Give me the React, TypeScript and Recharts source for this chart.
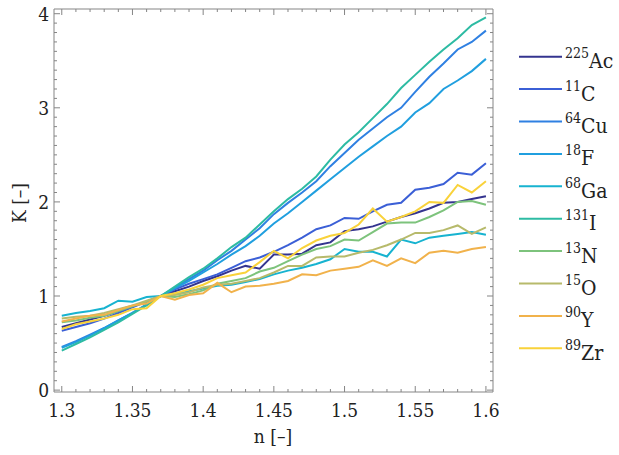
import React from 'react';
import { LineChart, Line, XAxis, YAxis, Legend } from 'recharts';

// refractive index n (x axis), one value per 0.01
const nValues = [
  1.3, 1.31, 1.32, 1.33, 1.34, 1.35, 1.36, 1.37, 1.38, 1.39, 1.4,
  1.41, 1.42, 1.43, 1.44, 1.45, 1.46, 1.47, 1.48, 1.49, 1.5,
  1.51, 1.52, 1.53, 1.54, 1.55, 1.56, 1.57, 1.58, 1.59, 1.6,
];

// K values per radionuclide
const ac225 = [0.67, 0.71, 0.75, 0.79, 0.84, 0.89, 0.94, 1.0, 1.05, 1.1, 1.16, 1.21, 1.27, 1.32, 1.29, 1.44, 1.44, 1.45, 1.54, 1.57, 1.69, 1.71, 1.74, 1.79, 1.84, 1.88, 1.93, 1.99, 2.0, 2.03, 2.06];
const c11 = [0.63, 0.67, 0.71, 0.76, 0.82, 0.88, 0.94, 1.0, 1.07, 1.13, 1.18, 1.23, 1.3, 1.37, 1.41, 1.47, 1.54, 1.62, 1.71, 1.75, 1.83, 1.82, 1.9, 1.97, 1.99, 2.13, 2.15, 2.19, 2.31, 2.29, 2.41];
const cu64 = [0.46, 0.52, 0.59, 0.66, 0.74, 0.82, 0.91, 1.0, 1.09, 1.18, 1.27, 1.38, 1.48, 1.6, 1.72, 1.87, 1.99, 2.1, 2.22, 2.38, 2.52, 2.66, 2.78, 2.9, 3.0, 3.17, 3.33, 3.47, 3.62, 3.7, 3.82];
const f18 = [0.45, 0.51, 0.58, 0.66, 0.74, 0.82, 0.91, 1.0, 1.08, 1.16, 1.25, 1.34, 1.44, 1.53, 1.64, 1.77, 1.88, 2.0, 2.12, 2.24, 2.36, 2.48, 2.59, 2.7, 2.8, 2.95, 3.05, 3.2, 3.29, 3.39, 3.52];
const ga68 = [0.79, 0.82, 0.84, 0.87, 0.95, 0.94, 0.99, 1.0, 1.02, 1.05, 1.08, 1.11, 1.12, 1.15, 1.18, 1.23, 1.27, 1.3, 1.34, 1.39, 1.5, 1.47, 1.47, 1.42, 1.6, 1.56, 1.62, 1.64, 1.66, 1.68, 1.65];
const i131 = [0.42, 0.49, 0.56, 0.64, 0.72, 0.81, 0.9, 1.0, 1.1, 1.2, 1.29, 1.4, 1.52, 1.62, 1.76, 1.9, 2.03, 2.14, 2.27, 2.45, 2.61, 2.74, 2.89, 3.04, 3.21, 3.35, 3.49, 3.62, 3.74, 3.88, 3.96];
const n13 = [0.72, 0.74, 0.77, 0.79, 0.84, 0.89, 0.94, 1.0, 0.99, 1.02, 1.06, 1.13, 1.16, 1.19, 1.26, 1.3, 1.37, 1.44, 1.5, 1.53, 1.6, 1.59, 1.68, 1.77, 1.78, 1.78, 1.84, 1.91, 2.0, 2.01, 1.97];
const o15 = [0.76, 0.78, 0.79, 0.82, 0.86, 0.9, 0.95, 1.0, 1.01, 1.04, 1.09, 1.12, 1.13, 1.16, 1.19, 1.25, 1.32, 1.32, 1.41, 1.42, 1.42, 1.46, 1.49, 1.54, 1.6, 1.67, 1.67, 1.7, 1.75, 1.66, 1.73];
const y90 = [0.73, 0.76, 0.79, 0.8, 0.85, 0.9, 0.92, 1.0, 0.96, 1.01, 1.03, 1.14, 1.04, 1.1, 1.11, 1.13, 1.16, 1.23, 1.22, 1.27, 1.29, 1.31, 1.38, 1.32, 1.4, 1.35, 1.46, 1.48, 1.46, 1.5, 1.52];
const zr89 = [0.65, 0.7, 0.73, 0.76, 0.8, 0.86, 0.87, 1.0, 1.03, 1.07, 1.12, 1.19, 1.22, 1.25, 1.36, 1.48, 1.4, 1.51, 1.59, 1.64, 1.67, 1.76, 1.93, 1.79, 1.84, 1.9, 2.0, 1.99, 2.18, 2.1, 2.22];

const xMajorTicks = [1.3, 1.35, 1.4, 1.45, 1.5, 1.55, 1.6];
const xTickLabels = ['1.3', '1.35', '1.4', '1.45', '1.5', '1.55', '1.6'];
const yMajorTicks = [0, 1, 2, 3, 4];
const yTickLabels = ['0', '1', '2', '3', '4'];
// minor ticks every 0.1 on K
const yMinorTicks = Array.from({ length: 41 }, (_, k) => k / 10);

const series = [
  { key: 'ac225', mass: '225', symbol: 'Ac', color: '#34348f', values: ac225 },
  { key: 'c11', mass: '11', symbol: 'C', color: '#3b5fd6', values: c11 },
  { key: 'cu64', mass: '64', symbol: 'Cu', color: '#2f80e2', values: cu64 },
  { key: 'f18', mass: '18', symbol: 'F', color: '#209fdf', values: f18 },
  { key: 'ga68', mass: '68', symbol: 'Ga', color: '#17b3d0', values: ga68 },
  { key: 'i131', mass: '131', symbol: 'I', color: '#2dbba3', values: i131 },
  { key: 'n13', mass: '13', symbol: 'N', color: '#7dc37c', values: n13 },
  { key: 'o15', mass: '15', symbol: 'O', color: '#b7ba6b', values: o15 },
  { key: 'y90', mass: '90', symbol: 'Y', color: '#f1b24b', values: y90 },
  { key: 'zr89', mass: '89', symbol: 'Zr', color: '#f9d23a', values: zr89 },
];

const chartData = nValues.map((n, i) => {
  const row: Record<string, number> = { n };
  series.forEach(s => { row[s.key] = s.values[i]; });
  return row;
});

const FRAME = '#858585';
const FONT = "'DejaVu Serif Condensed', 'DejaVu Serif', serif";
const textStyle = { fontFamily: FONT, fontStretch: 'condensed' as const };

const majorIndex = (v: number, majors: number[]) =>
  majors.findIndex(m => Math.abs(m - v) < 1e-6);

const BottomTick = (props: any) => {
  const { x, y, payload } = props;
  const idx = majorIndex(payload.value, xMajorTicks);
  return (
    <g>
      <line x1={x} y1={y} x2={x} y2={y - (idx >= 0 ? 6 : 3)} stroke={FRAME} />
      {idx >= 0 && (
        <text x={x} y={y + 25} textAnchor="middle" style={textStyle} fontSize={19} fill="#222">
          {xTickLabels[idx]}
        </text>
      )}
    </g>
  );
};

const TopTick = (props: any) => {
  const { x, y, payload } = props;
  const idx = majorIndex(payload.value, xMajorTicks);
  return <line x1={x} y1={y} x2={x} y2={y + (idx >= 0 ? 6 : 3)} stroke={FRAME} />;
};

const LeftTick = (props: any) => {
  const { x, y, payload } = props;
  const idx = majorIndex(payload.value, yMajorTicks);
  return (
    <g>
      <line x1={x} y1={y} x2={x + (idx >= 0 ? 6 : 3)} y2={y} stroke={FRAME} />
      {idx >= 0 && (
        <text x={x - 5} y={y + 7} textAnchor="end" style={textStyle} fontSize={19} fill="#222">
          {yTickLabels[idx]}
        </text>
      )}
    </g>
  );
};

const RightTick = (props: any) => {
  const { x, y, payload } = props;
  const idx = majorIndex(payload.value, yMajorTicks);
  return <line x1={x} y1={y} x2={x - (idx >= 0 ? 6 : 3)} y2={y} stroke={FRAME} />;
};

const renderLegend = () => (
  <svg width={619} height={455} style={{ position: 'absolute', left: 0, top: 0 }}>
    {series.map((s, k) => {
      const cy = 56.7 + k * 32.4;
      return (
        <g key={s.key}>
          <line x1={519} y1={cy} x2={562} y2={cy} stroke={s.color} strokeWidth={2} />
          <text x={565} y={cy + 11.5} style={textStyle} fill="#222">
            <tspan fontSize={14} dy={-10}>{s.mass}</tspan>
            <tspan fontSize={21} dy={10}>{s.symbol}</tspan>
          </text>
        </g>
      );
    })}
  </svg>
);

export default function App() {
  return (
    <div style={{ position: 'absolute', left: 0, top: 0, width: 619, height: 455, background: '#fff' }}>
      <LineChart
        width={619}
        height={455}
        data={chartData}
        margin={{ top: 0, right: 0, bottom: 3, left: 4 }}
      >
        <XAxis
          xAxisId="bottom"
          dataKey="n"
          type="number"
          domain={[1.2945, 1.605]}
          allowDataOverflow
          ticks={nValues}
          interval={0}
          tickSize={0}
          tickMargin={0}
          tickLine={false}
          height={60}
          axisLine={{ stroke: FRAME }}
          tick={BottomTick}
          label={{
            content: () => (
              <text x={273} y={443} textAnchor="middle" style={textStyle} fontSize={19} fill="#222">
                n [–]
              </text>
            ),
          }}
        />
        <XAxis
          xAxisId="top"
          orientation="top"
          dataKey="n"
          type="number"
          domain={[1.2945, 1.605]}
          allowDataOverflow
          ticks={nValues}
          interval={0}
          tickSize={0}
          tickMargin={0}
          tickLine={false}
          height={9}
          axisLine={{ stroke: FRAME }}
          tick={TopTick}
        />
        <YAxis
          yAxisId="left"
          type="number"
          domain={[-0.02, 4.05]}
          allowDataOverflow
          ticks={yMinorTicks}
          interval={0}
          tickSize={0}
          tickMargin={0}
          tickLine={false}
          width={50}
          axisLine={{ stroke: FRAME }}
          tick={LeftTick}
          label={{
            content: () => (
              <text
                x={19}
                y={203}
                transform="rotate(-90 19 203)"
                textAnchor="middle"
                dominantBaseline="central"
                style={textStyle}
                fontSize={19}
                fill="#222"
              >
                K [–]
              </text>
            ),
          }}
        />
        <YAxis
          yAxisId="right"
          orientation="right"
          type="number"
          domain={[-0.02, 4.05]}
          allowDataOverflow
          ticks={yMinorTicks}
          interval={0}
          tickSize={0}
          tickMargin={0}
          tickLine={false}
          width={126}
          axisLine={{ stroke: FRAME }}
          tick={RightTick}
        />
        <Legend
          layout="horizontal"
          verticalAlign="middle"
          align="center"
          content={renderLegend}
          wrapperStyle={{ left: 0, top: 0, width: 619, height: 455, pointerEvents: 'none' }}
        />
        {series.map(s => (
          <Line
            key={s.key}
            xAxisId="bottom"
            yAxisId="left"
            type="linear"
            dataKey={s.key}
            stroke={s.color}
            strokeWidth={2}
            dot={false}
            activeDot={false}
            isAnimationActive={false}
          />
        ))}
      </LineChart>
    </div>
  );
}
